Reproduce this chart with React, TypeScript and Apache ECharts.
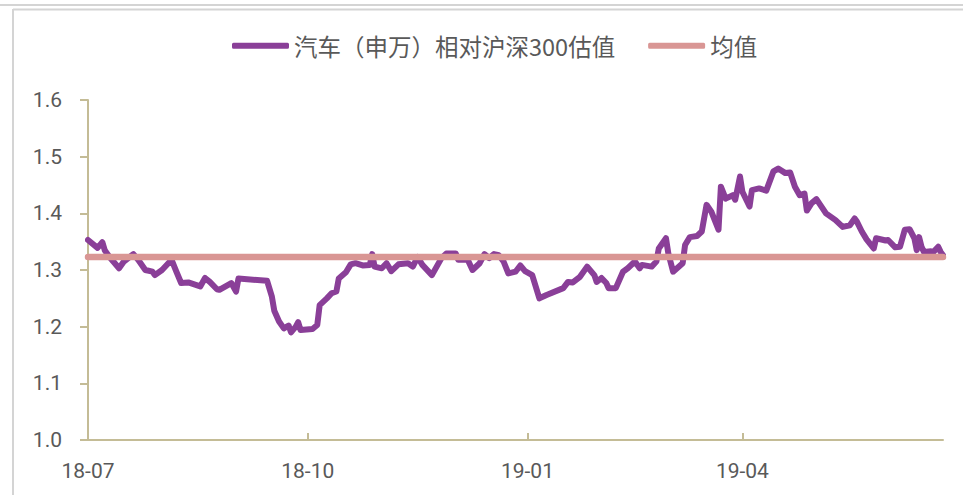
import React, { useEffect, useRef } from "react";
import * as echarts from "echarts";

const SERIES_NAME = "汽车（申万）相对沪深300估值";
const MEAN_NAME = "均值";

const DATES: string[] = [
  "2018-07-01", "2018-07-05", "2018-07-07", "2018-07-08", "2018-07-10", "2018-07-14", "2018-07-16", "2018-07-20",
  "2018-07-22", "2018-07-25", "2018-07-28", "2018-07-29", "2018-08-01", "2018-08-05", "2018-08-07", "2018-08-09",
  "2018-08-12", "2018-08-17", "2018-08-19", "2018-08-21", "2018-08-24", "2018-08-25", "2018-08-30", "2018-09-01",
  "2018-09-02", "2018-09-14", "2018-09-16", "2018-09-17", "2018-09-19", "2018-09-21", "2018-09-23", "2018-09-24",
  "2018-09-26", "2018-09-27", "2018-09-28", "2018-10-03", "2018-10-05", "2018-10-06", "2018-10-09", "2018-10-11",
  "2018-10-13", "2018-10-14", "2018-10-17", "2018-10-19", "2018-10-21", "2018-10-24", "2018-10-27", "2018-10-28",
  "2018-10-29", "2018-11-01", "2018-11-03", "2018-11-05", "2018-11-08", "2018-11-12", "2018-11-14", "2018-11-16",
  "2018-11-18", "2018-11-22", "2018-11-26", "2018-11-28", "2018-12-02", "2018-12-03", "2018-12-07", "2018-12-09",
  "2018-12-12", "2018-12-14", "2018-12-16", "2018-12-18", "2018-12-20", "2018-12-22", "2018-12-24", "2018-12-27",
  "2018-12-29", "2018-12-31", "2019-01-03", "2019-01-06", "2019-01-09", "2019-01-16", "2019-01-18", "2019-01-20",
  "2019-01-23", "2019-01-26", "2019-01-29", "2019-01-30", "2019-02-01", "2019-02-03", "2019-02-04", "2019-02-07",
  "2019-02-10", "2019-02-12", "2019-02-15", "2019-02-17", "2019-02-18", "2019-02-22", "2019-02-24", "2019-02-25",
  "2019-02-28", "2019-03-01", "2019-03-03", "2019-03-07", "2019-03-08", "2019-03-10", "2019-03-13", "2019-03-15",
  "2019-03-17", "2019-03-19", "2019-03-22", "2019-03-23", "2019-03-25", "2019-03-28", "2019-03-29", "2019-03-31",
  "2019-04-01", "2019-04-04", "2019-04-05", "2019-04-08", "2019-04-11", "2019-04-14", "2019-04-16", "2019-04-19",
  "2019-04-21", "2019-04-23", "2019-04-25", "2019-04-27", "2019-04-28", "2019-04-30", "2019-05-02", "2019-05-06",
  "2019-05-10", "2019-05-13", "2019-05-16", "2019-05-18", "2019-05-19", "2019-05-21", "2019-05-23", "2019-05-26",
  "2019-05-27", "2019-05-31", "2019-06-01", "2019-06-04", "2019-06-06", "2019-06-08", "2019-06-10", "2019-06-12",
  "2019-06-13", "2019-06-14", "2019-06-15", "2019-06-16", "2019-06-19", "2019-06-20", "2019-06-22", "2019-06-23",
  "2019-06-24",
];

const VALUES: number[] = [
  1.353, 1.339, 1.349, 1.335, 1.323, 1.303, 1.315, 1.328,
  1.318, 1.300, 1.297, 1.291, 1.300, 1.318, 1.297, 1.277,
  1.278, 1.271, 1.286, 1.279, 1.266, 1.265, 1.277, 1.262,
  1.285, 1.281, 1.253, 1.228, 1.209, 1.197, 1.202, 1.190,
  1.200, 1.208, 1.194, 1.196, 1.203, 1.238, 1.250, 1.259,
  1.262, 1.285, 1.296, 1.310, 1.312, 1.308, 1.309, 1.328,
  1.306, 1.303, 1.312, 1.298, 1.310, 1.312, 1.306, 1.323,
  1.309, 1.291, 1.321, 1.329, 1.329, 1.318, 1.318, 1.300,
  1.312, 1.328, 1.321, 1.328, 1.326, 1.315, 1.294, 1.297,
  1.308, 1.298, 1.291, 1.250, 1.256, 1.268, 1.279, 1.278,
  1.288, 1.306, 1.291, 1.279, 1.286, 1.277, 1.268, 1.268,
  1.297, 1.303, 1.315, 1.303, 1.309, 1.306, 1.315, 1.338,
  1.356, 1.329, 1.297, 1.312, 1.344, 1.358, 1.360, 1.368,
  1.415, 1.403, 1.371, 1.447, 1.426, 1.432, 1.424, 1.465,
  1.438, 1.412, 1.441, 1.444, 1.440, 1.474, 1.479, 1.471,
  1.472, 1.447, 1.432, 1.435, 1.405, 1.418, 1.425, 1.400,
  1.388, 1.376, 1.379, 1.391, 1.385, 1.368, 1.354, 1.338,
  1.356, 1.352, 1.353, 1.340, 1.341, 1.371, 1.372, 1.356,
  1.335, 1.358, 1.341, 1.332, 1.333, 1.332, 1.341, 1.332,
  1.326,
];

const MEAN_VALUE = 1.323;

const X_TICK_DATES: string[] = ["2018-07-01", "2018-10-01", "2019-01-01", "2019-04-01"];
const X_MIN = "2018-07-01";
const X_MAX = "2019-06-24";

const Y_MIN = 1.0;
const Y_MAX = 1.6;
const Y_INTERVAL = 0.1;

function toTime(s: string): number {
  const [y, m, d] = s.split("-").map(Number);
  return Date.UTC(y, m - 1, d);
}

function fmtMonth(v: number): string {
  const d = new Date(v);
  return String(d.getUTCFullYear()).slice(2) + "-" + String(d.getUTCMonth() + 1).padStart(2, "0");
}

const PURPLE = "#8A3F98";
const PINK = "#D99694";
const AXIS = "#C4BC96";
const TEXT = "#595959";

export default function App() {
  const ref = useRef<HTMLDivElement>(null);

  useEffect(() => {
    if (!ref.current) return;
    const chart = echarts.init(ref.current, null, { renderer: "svg" });
    const lineData = DATES.map((d, i) => [toTime(d), VALUES[i]]);
    const meanData = DATES.map((d) => [toTime(d), MEAN_VALUE]);
    const tickTimes = X_TICK_DATES.map(toTime);

    chart.setOption({
      animation: false,
      backgroundColor: "#ffffff",
      textStyle: { fontFamily: "Roboto, 'Noto Sans CJK SC', sans-serif" },
      graphic: [
        { type: "line", shape: { x1: 0, y1: 5, x2: 963, y2: 5 }, style: { stroke: "#D4D4D4", lineWidth: 2 } },
        { type: "line", shape: { x1: 13, y1: 9.5, x2: 963, y2: 9.5 }, style: { stroke: "#D4D4D4", lineWidth: 2 } },
        { type: "line", shape: { x1: 13, y1: 9, x2: 13, y2: 495 }, style: { stroke: "#D4D4D4", lineWidth: 2 } },
      ],
      legend: {
        left: 227,
        top: 29,
        itemWidth: 57,
        itemHeight: 6,
        itemGap: 33,
        icon: "roundRect",
        textStyle: { fontSize: 23.5, color: TEXT, fontFamily: "'Noto Sans CJK SC', sans-serif" },
        data: [
          { name: SERIES_NAME, itemStyle: { color: PURPLE } },
          { name: MEAN_NAME, itemStyle: { color: PINK } },
        ],
      },
      grid: { left: 88, right: 20, top: 100, bottom: 55, containLabel: false },
      xAxis: {
        type: "value",
        min: toTime(X_MIN),
        max: toTime(X_MAX),
        axisLine: { show: true, lineStyle: { color: AXIS, width: 2 } },
        axisTick: { show: true, inside: true, length: 7, lineStyle: { color: AXIS, width: 2 }, customValues: tickTimes },
        axisLabel: {
          customValues: tickTimes,
          formatter: (v: number) => fmtMonth(v),
          fontSize: 21,
          color: TEXT,
          margin: 20,
          fontFamily: "Roboto, sans-serif",
        },
        splitLine: { show: false },
      },
      yAxis: {
        type: "value",
        min: Y_MIN,
        max: Y_MAX,
        interval: Y_INTERVAL,
        axisLine: { show: true, lineStyle: { color: AXIS, width: 2 } },
        axisTick: { show: true, inside: false, length: 8, lineStyle: { color: AXIS, width: 2 } },
        axisLabel: {
          formatter: (v: number) => v.toFixed(1),
          fontSize: 21,
          color: TEXT,
          margin: 26,
          fontFamily: "Roboto, sans-serif",
        },
        splitLine: { show: false },
      },
      series: [
        {
          name: SERIES_NAME,
          type: "line",
          data: lineData,
          showSymbol: false,
          symbol: "none",
          lineStyle: { color: PURPLE, width: 6, cap: "round", join: "round" },
          itemStyle: { color: PURPLE },
          z: 2,
        },
        {
          name: MEAN_NAME,
          type: "line",
          data: meanData,
          showSymbol: false,
          symbol: "none",
          lineStyle: { color: PINK, width: 6.5, cap: "round" },
          itemStyle: { color: PINK },
          z: 3,
        },
      ],
    });

    return () => chart.dispose();
  }, []);

  return (
    <div
      ref={ref}
      style={{ position: "absolute", left: 0, top: 0, width: 963, height: 495, background: "#fff" }}
    />
  );
}
